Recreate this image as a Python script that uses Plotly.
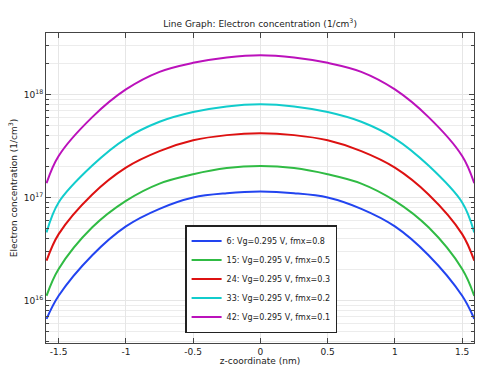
import plotly.graph_objects as go

z_nm = [-1.59, -1.5, -1.25, -1.0, -0.75, -0.5, -0.25, 0.0,
        0.25, 0.5, 0.75, 1.0, 1.25, 1.5, 1.59]

n_fmx08 = [6.62e15, 1.11e16, 2.75e16, 5.24e16, 7.76e16, 1.00e17, 1.10e17, 1.14e17,
           1.10e17, 1.00e17, 7.76e16, 5.24e16, 2.75e16, 1.11e16, 6.62e15]
n_fmx05 = [1.11e16, 2.02e16, 5.13e16, 9.27e16, 1.365e17, 1.68e17, 1.93e17, 2.02e17,
           1.93e17, 1.68e17, 1.365e17, 9.27e16, 5.13e16, 2.02e16, 1.11e16]
n_fmx03 = [2.43e16, 4.41e16, 1.07e17, 1.95e17, 2.82e17, 3.59e17, 4.03e17, 4.20e17,
           4.03e17, 3.59e17, 2.82e17, 1.95e17, 1.07e17, 4.41e16, 2.43e16]
n_fmx02 = [4.58e16, 8.95e16, 2.04e17, 3.73e17, 5.43e17, 6.75e17, 7.66e17, 8.02e17,
           7.66e17, 6.75e17, 5.43e17, 3.73e17, 2.04e17, 8.95e16, 4.58e16]
n_fmx01 = [1.377e17, 2.53e17, 6.03e17, 1.12e18, 1.66e18, 2.03e18, 2.29e18, 2.41e18,
           2.29e18, 2.03e18, 1.66e18, 1.12e18, 6.03e17, 2.53e17, 1.377e17]

series_names = ["6: Vg=0.295 V, fmx=0.8", "15: Vg=0.295 V, fmx=0.5",
                "24: Vg=0.295 V, fmx=0.3", "33: Vg=0.295 V, fmx=0.2",
                "42: Vg=0.295 V, fmx=0.1"]
series_values = [n_fmx08, n_fmx05, n_fmx03, n_fmx02, n_fmx01]
colors = ["#2244f0", "#30bb44", "#dd1111", "#11cccc", "#bb11bb"]

x_ticks = [-1.5, -1, -0.5, 0, 0.5, 1, 1.5]
x_ticklabels = ["-1.5", "-1", "-0.5", "0", "0.5", "1", "1.5"]
y_ticks = [1e16, 1e17, 1e18]
y_ticklabels = ["10<sup>16</sup>", "10<sup>17</sup>", "10<sup>18</sup>"]
y_minor = [k * 10.0 ** e for e in (15, 16, 17, 18) for k in range(2, 10)]

font = "DejaVu Sans, Arial, sans-serif"
fig = go.Figure()
for name, vals, c in zip(series_names, series_values, colors):
    fig.add_trace(go.Scatter(x=z_nm, y=vals, mode="lines", name=name,
                             line=dict(color=c, width=2, shape="spline", smoothing=1.0)))

axis_common = dict(showline=True, linecolor="#444444", linewidth=1, mirror="ticks",
                   ticks="inside", tickcolor="#444444", ticklen=5, automargin=False,
                   gridcolor="#e6e6e6", gridwidth=1, zeroline=False,
                   tickfont=dict(size=9, color="#222222", family=font))

fig.update_xaxes(range=[-1.594, 1.588], tickvals=x_ticks, ticktext=x_ticklabels,
                 title=dict(text="z-coordinate (nm)", font=dict(size=9, color="#222222", family=font),
                            standoff=0),
                 **axis_common)
fig.update_yaxes(type="log", range=[15.587, 18.597], tickvals=y_ticks, ticktext=y_ticklabels,
                 minor=dict(tickvals=y_minor, ticks="inside", ticklen=3, tickcolor="#444444",
                            showgrid=True, gridcolor="#ececec"),
                 title=dict(text="Electron concentration (1/cm<sup>3</sup>)",
                            font=dict(size=9, color="#222222", family=font), standoff=4),
                 **axis_common)

fig.update_layout(
    width=479, height=366,
    margin=dict(l=46, r=5, t=33, b=23, autoexpand=False),
    plot_bgcolor="white", paper_bgcolor="white",
    title=dict(text="Line Graph: Electron concentration (1/cm<sup>3</sup>)",
               x=0.543, xanchor="center", y=0.935, yanchor="middle",
               font=dict(size=9, color="#222222", family=font)),
    legend=dict(x=0.325, y=0.032, xanchor="left", yanchor="bottom",
                bgcolor="white", bordercolor="#222222", borderwidth=1.5,
                font=dict(size=8, color="#222222", family=font),
                tracegroupgap=0, itemwidth=30),
    showlegend=True,
)

fig.write_html("out.html", config={"displayModeBar": False},
               post_script="document.body.style.margin='0';document.body.style.overflow='hidden';")
